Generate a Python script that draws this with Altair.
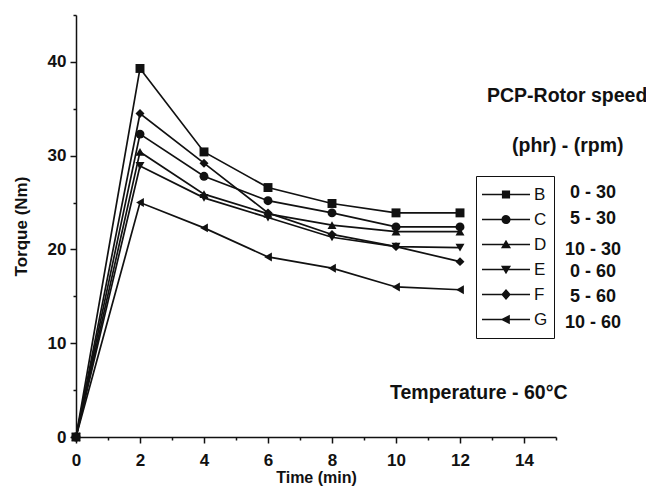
import altair as alt
import pandas as pd

# ---- data ----
times = [0, 2, 4, 6, 8, 10, 12]
series = ["B", "C", "D", "E", "F", "G"]
torque_B = [0, 39.3, 30.4, 26.6, 24.9, 23.9, 23.9]
torque_C = [0, 32.3, 27.8, 25.2, 23.9, 22.4, 22.4]
torque_D = [0, 30.4, 25.9, 23.8, 22.6, 21.9, 21.9]
torque_E = [0, 28.9, 25.5, 23.4, 21.3, 20.3, 20.2]
torque_F = [0, 34.5, 29.2, 23.9, 21.6, 20.3, 18.7]
torque_G = [0, 25.0, 22.3, 19.2, 18.0, 16.0, 15.7]
conditions = ["0 - 30", "5 - 30", "10 - 30", "0 - 60", "5 - 60", "10 - 60"]
x_major = [0, 2, 4, 6, 8, 10, 12, 14]
x_minor = [1, 3, 5, 7, 9, 11, 13, 15]
y_major = [0, 10, 20, 30, 40]
y_minor = [5, 15, 25, 35, 45]

values = [torque_B, torque_C, torque_D, torque_E, torque_F, torque_G]
rows = []
for s, vals in zip(series, values):
    for t, v in zip(times, vals):
        rows.append({"series": s, "time": t, "torque": v})
df = pd.DataFrame(rows)

FONT = "Liberation Sans"
INK = "#111111"

shapes = ["square", "circle", "triangle-up", "triangle-down", "diamond", "triangle-left"]
LINE = "M-1,-0.032H1V0.032H-1Z"
legend_paths = [
    LINE + "M-0.17,-0.17H0.17V0.17H-0.17Z",
    LINE + "M-0.19,0A0.19,0.19 0 1,1 0.19,0A0.19,0.19 0 1,1 -0.19,0Z",
    LINE + "M0,-0.2L0.21,0.16L-0.21,0.16Z",
    LINE + "M0,0.2L-0.21,-0.16L0.21,-0.16Z",
    LINE + "M0,-0.23L0.2,0L0,0.23L-0.2,0Z",
    LINE + "M-0.23,0L0.16,-0.2L0.16,0.2Z",
]

xscale = alt.Scale(domain=[0, 15], nice=False)
yscale = alt.Scale(domain=[0, 45], nice=False)

axis_common = dict(
    domainColor=INK, domainWidth=1.5, tickColor=INK, tickWidth=1.5,
    labelFont=FONT, labelFontSize=17, labelFontWeight="bold", labelColor=INK,
    titleFont=FONT, titleFontWeight="bold", titleColor=INK,
    grid=False, labelFlush=False,
)

x_main = alt.X("time:Q", scale=xscale, axis=alt.Axis(
    values=x_major, orient="bottom", tickSize=6, labelPadding=9,
    title="Time (min)", titlePadding=1, titleFontSize=16, format="d", **axis_common))
y_main = alt.Y("torque:Q", scale=yscale, axis=alt.Axis(
    values=y_major, orient="left", tickSize=6, labelPadding=4,
    title="Torque (Nm)", titlePadding=17, titleFontSize=17, format="d", **axis_common))

base = alt.Chart(df)

lines = base.mark_line(color=INK, strokeWidth=1.7).encode(
    x=x_main, y=y_main, detail="series:N")

points = base.mark_point(filled=True, color=INK, size=80, opacity=1).encode(
    x=alt.X("time:Q", scale=xscale, axis=None),
    y=alt.Y("torque:Q", scale=yscale, axis=None),
    shape=alt.Shape("series:N", scale=alt.Scale(domain=series, range=shapes), legend=None),
)

legend_layer = base.mark_point(filled=True, color=INK, size=2304, opacity=1).encode(
    x=alt.X("time:Q", scale=xscale, axis=alt.Axis(
        values=x_minor, orient="bottom", tickSize=3, labels=False, domain=False,
        title=None, tickColor=INK, tickWidth=1.5, grid=False)),
    y=alt.Y("torque:Q", scale=yscale, axis=alt.Axis(
        values=y_minor, orient="left", tickSize=3, labels=False, domain=False,
        title=None, tickColor=INK, tickWidth=1.5, grid=False)),
    shape=alt.Shape("series:N", scale=alt.Scale(domain=series, range=legend_paths),
                    legend=alt.Legend(
                        title=None, orient="none", legendX=400, legendY=161,
                        strokeColor=INK, fillColor="white", padding=6,
                        clipHeight=25, rowPadding=0, symbolSize=2304,
                        symbolStrokeWidth=0, symbolFillColor=INK, symbolOpacity=1,
                        labelFont=FONT, labelFontSize=17, labelColor=INK,
                        labelOffset=4)),
).transform_filter("false")

# annotation texts
def note(txt, x, y, align="left", size=19.5):
    return alt.Chart(pd.DataFrame({"t": [txt]})).mark_text(
        font=FONT, fontSize=size, fontWeight="bold", color=INK,
        align=align, baseline="middle").encode(
        text="t:N", x=alt.value(x), y=alt.value(y))

cond_y = [178, 204, 235, 257, 282, 308]
notes = [note("PCP-Rotor speed", 411, 81),
         note("(phr) - (rpm)", 436, 131),
         note("Temperature - 60°C", 314, 378)]
for c, yy in zip(conditions, cond_y):
    notes.append(note(c, 517, yy, align="center", size=18))

chart = alt.layer(lines, points, legend_layer, *notes).resolve_scale(
    shape="independent").resolve_axis(x="independent", y="independent").properties(
    width=480, height=422,
    autosize=alt.AutoSizeParams(type="none"),
    padding={"left": 68, "top": 7, "right": 90, "bottom": 50},
).configure_view(strokeWidth=0)

chart.save("out.html", embed_options={"renderer": "svg", "actions": False})
